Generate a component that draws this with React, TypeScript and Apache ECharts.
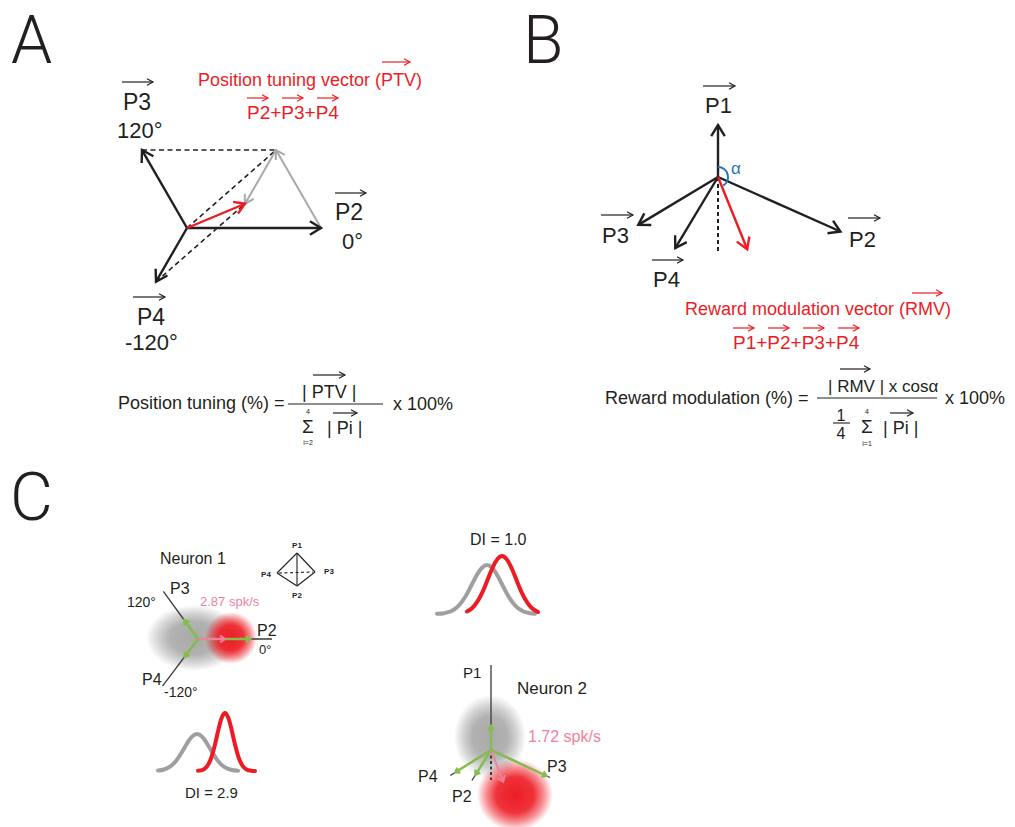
import React, { useEffect, useRef } from "react";
import * as echarts from "echarts";

const FONT = '"Liberation Sans", Arial, Helvetica, sans-serif';
const INK = "#231f20";
const RED = "#ed1c24";
const GRAY = "#a7a9ac";
const GREEN = "#84bd4d";
const PINK = "#f37f9e";
const BLUE = "#1c75bc";

// ---------- Panel A: position vectors (length, angle in degrees)
const aNames = ["P2", "P3", "P4"];
const aLength = [134, 90, 62];
const aAngle = [0, 120, -120];

// ---------- Panel B
const bNames = ["P1", "P2", "P3", "P4"];
const bLength = [52, 134, 93, 83];
const bAngle = [90, -24, -149, -121];
const rmvLength = 78;
const rmvAngle = -68;
const bReferenceLength = 76;
const alphaRadius = 10;

// ---------- Panel C, neuron 1
const n1Names = ["P2", "P3", "P4"];
const n1AxisLength = [74, 59, 59];
const n1AxisAngle = [0, 126, -127];
const n1ResponseLength = [52, 23, 22];
const n1VectorLength = 27;
const n1VectorAngle = 0;
const n1GrayCloud = [-4, 1, 48, 33]; // centre x, centre y, radius x, radius y
const n1RedCloud = [33, 1, 26, 26];

// ---------- Panel C, neuron 2
const n2Names = ["P1", "P2", "P3", "P4"];
const n2AxisLength = [85, 36, 65, 48];
const n2AxisAngle = [90, -122, -25, -148];
const n2ResponseLength = [24, 29, 61, 42];
const n2VectorLength = 34;
const n2VectorAngle = -69;
const n2ReferenceLength = 30;
const n2GrayCloud = [-1, 13, 36, 42];
const n2RedCloud = [24, -45, 38, 36];

// ---------- Distributions (DI = 2.9)
const di29GrayX = [8, 14, 20, 26, 32, 37, 42, 47, 52, 57, 62, 67, 72, 77, 82, 88];
const di29Gray = [0.4, 1.5, 4.3, 10, 19, 27.5, 34.4, 37, 34.4, 27.5, 19, 11.4, 5.8, 2.6, 1, 0.3];
const di29RedX = [48, 53, 57, 61, 65, 69, 72, 75, 78, 81, 85, 89, 93, 97, 101, 105];
const di29Red = [0.2, 1.3, 4.6, 12.5, 26.5, 43.8, 54, 58, 54, 43.8, 26.5, 12.5, 4.6, 1.3, 0.3, 0];

// ---------- Distributions (DI = 1.0)
const di10GrayX = [7, 14, 21, 28, 35, 42, 47, 52, 57, 62, 67, 72, 79, 86, 93, 100, 105];
const di10Gray = [0.2, 0.8, 2.7, 7.6, 16.7, 29.7, 39.3, 46.3, 49, 46.3, 39.3, 29.7, 16.7, 7.6, 2.7, 0.8, 0.3];
const di10RedX = [37, 42, 47, 52, 57, 62, 67, 72, 77, 82, 87, 92, 97, 102, 108];
const di10Red = [2.5, 5.8, 11.8, 20.9, 32.7, 45, 54.4, 58, 54.4, 45, 32.7, 20.9, 11.8, 5.8, 2];

// ---------- helpers
const rad = (d: number) => (d * Math.PI) / 180;
const tip = (len: number, deg: number) => [len * Math.cos(rad(deg)), len * Math.sin(rad(deg))];
const add = (...v: number[][]) => v.reduce((s, p) => [s[0] + p[0], s[1] + p[1]], [0, 0]);

type ArrowStyle = { color: string; width: number; head?: number; spread?: number; dash?: number[] };

function arrowSeries(grid: number, segs: number[][], st: ArrowStyle) {
  return {
    type: "custom",
    xAxisIndex: grid,
    yAxisIndex: grid,
    silent: true,
    clip: false,
    data: segs,
    encode: { x: [0, 2], y: [1, 3] },
    renderItem: (_p: any, api: any) => {
      const a = api.coord([api.value(0), api.value(1)]);
      const b = api.coord([api.value(2), api.value(3)]);
      const children: any[] = [
        {
          type: "line",
          shape: { x1: a[0], y1: a[1], x2: b[0], y2: b[1] },
          style: { stroke: st.color, lineWidth: st.width, lineDash: st.dash, fill: null },
        },
      ];
      if (st.head) {
        const ang = Math.atan2(b[1] - a[1], b[0] - a[0]);
        const h = st.head;
        const s = st.spread ?? 0.55;
        children.push({
          type: "polyline",
          shape: {
            points: [
              [b[0] - h * Math.cos(ang - s), b[1] - h * Math.sin(ang - s)],
              [b[0], b[1]],
              [b[0] - h * Math.cos(ang + s), b[1] - h * Math.sin(ang + s)],
            ],
          },
          style: { stroke: st.color, lineWidth: st.width, fill: null, lineJoin: "miter" },
        });
      }
      return { type: "group", children };
    },
  };
}

function cloudSeries(grid: number, cloud: number[], rgb: string, core: number) {
  return {
    type: "custom",
    xAxisIndex: grid,
    yAxisIndex: grid,
    silent: true,
    clip: false,
    data: [cloud],
    encode: { x: 0, y: 1 },
    renderItem: (_p: any, api: any) => {
      const c = api.coord([api.value(0), api.value(1)]);
      const s = api.size([api.value(2), api.value(3)]);
      return {
        type: "circle",
        x: c[0],
        y: c[1],
        scaleX: s[0] / s[1],
        scaleY: 1,
        shape: { cx: 0, cy: 0, r: s[1] },
        style: {
          fill: new echarts.graphic.RadialGradient(0.5, 0.5, 0.5, [
            { offset: 0, color: `rgba(${rgb},${core})` },
            { offset: 0.5, color: `rgba(${rgb},${core * 0.9})` },
            { offset: 0.75, color: `rgba(${rgb},${core * 0.5})` },
            { offset: 1, color: `rgba(${rgb},0)` },
          ]),
        },
      };
    },
  };
}

function curveSeries(grid: number, xs: number[], ys: number[], color: string) {
  return {
    type: "line",
    xAxisIndex: grid,
    yAxisIndex: grid,
    silent: true,
    data: xs.map((x, i) => [x, ys[i]]),
    smooth: 0.35,
    symbol: "none",
    lineStyle: { color, width: 4, cap: "round" },
  };
}

const T = (text: string, x: number, y: number, size: number, fill = INK, extra: any = {}) => ({
  type: "text",
  x,
  y,
  z: 20,
  silent: true,
  style: {
    text,
    fill,
    fontSize: size,
    fontFamily: FONT,
    textAlign: extra.align || "left",
    align: extra.align || "left",
    textVerticalAlign: "middle",
    verticalAlign: "middle",
    fontWeight: extra.weight || "normal",
  },
});

const L = (x1: number, y1: number, x2: number, y2: number, stroke = INK, w = 1.2, dash?: number[]) => ({
  type: "line",
  z: 20,
  silent: true,
  shape: { x1, y1, x2, y2 },
  style: { stroke, lineWidth: w, lineDash: dash },
});

const overArrow = (x1: number, x2: number, y: number, color = INK, w = 1.2) => [
  L(x1, y, x2, y, color, w),
  {
    type: "polyline",
    z: 20,
    silent: true,
    shape: { points: [[x2 - 6, y - 3.2], [x2, y], [x2 - 6, y + 3.2]] },
    style: { stroke: color, lineWidth: w, fill: null },
  },
];

function pxGrid(ox: number, oy: number, hw: number, hh: number) {
  return {
    grid: { left: ox - hw, top: oy - hh, width: 2 * hw, height: 2 * hh, show: false, outerBoundsMode: "none" },
    x: { type: "value", min: -hw, max: hw, show: false },
    y: { type: "value", min: -hh, max: hh, show: false },
  };
}

function boxGrid(left: number, top: number, w: number, h: number) {
  return {
    grid: { left, top, width: w, height: h, show: false, outerBoundsMode: "none" },
    x: { type: "value", min: 0, max: w, show: false },
    y: { type: "value", min: 0, max: h, show: false },
  };
}

function buildOption() {
  const grids = [
    pxGrid(187, 228, 150, 150), // 0 panel A
    pxGrid(718, 177, 150, 120), // 1 panel B
    pxGrid(198, 639, 80, 60), // 2 neuron 1
    pxGrid(491, 750, 90, 90), // 3 neuron 2
    boxGrid(150, 701, 110, 70), // 4 DI 2.9
    boxGrid(430, 541, 115, 73), // 5 DI 1.0
  ];

  const aTips = aNames.map((_, i) => tip(aLength[i], aAngle[i]));
  const s23 = add(aTips[0], aTips[1]);
  const ptv = add(aTips[0], aTips[1], aTips[2]);
  const O = [0, 0];

  const bTips = bNames.map((_, i) => tip(bLength[i], bAngle[i]));
  const rmv = tip(rmvLength, rmvAngle);
  const bRef = tip(bReferenceLength, -90);

  const n1Axis = n1Names.map((_, i) => tip(n1AxisLength[i], n1AxisAngle[i]));
  const n1Resp = n1Names.map((_, i) => tip(n1ResponseLength[i], n1AxisAngle[i]));
  const n1Vec = tip(n1VectorLength, n1VectorAngle);

  const n2Axis = n2Names.map((_, i) => tip(n2AxisLength[i], n2AxisAngle[i]));
  const n2Resp = n2Names.map((_, i) => tip(n2ResponseLength[i], n2AxisAngle[i]));
  const n2Vec = tip(n2VectorLength, n2VectorAngle);
  const n2Ref = tip(n2ReferenceLength, -90);

  const seg = (p: number[], q: number[]) => [p[0], p[1], q[0], q[1]];

  const series: any[] = [
    // panel A
    arrowSeries(0, [seg(aTips[1], s23), seg(O, s23), seg(aTips[2], ptv)], { color: INK, width: 1.6, dash: [5, 3.5] }),
    arrowSeries(0, [seg(aTips[0], s23), seg(s23, ptv)], { color: GRAY, width: 2, head: 10 }),
    arrowSeries(0, aTips.map((t) => seg(O, t)), { color: INK, width: 2.4, head: 13 }),
    arrowSeries(0, [seg(O, ptv)], { color: RED, width: 2.4, head: 12 }),
    // panel B
    arrowSeries(1, [seg(O, bRef)], { color: INK, width: 2, dash: [4, 3] }),
    arrowSeries(1, bTips.map((t) => seg(O, t)), { color: INK, width: 2.4, head: 13 }),
    arrowSeries(1, [seg(O, rmv)], { color: RED, width: 2.4, head: 13 }),
    {
      type: "custom",
      xAxisIndex: 1,
      yAxisIndex: 1,
      silent: true,
      clip: false,
      data: [[0, 0, alphaRadius]],
      encode: { x: 0, y: 1 },
      renderItem: (_p: any, api: any) => {
        const c = api.coord([api.value(0), api.value(1)]);
        const r = api.size([api.value(2), 0])[0];
        return {
          type: "arc",
          shape: { cx: c[0], cy: c[1], r, startAngle: -Math.PI / 2, endAngle: -rad(rmvAngle) - 0.15, clockwise: true },
          style: { stroke: BLUE, lineWidth: 2, fill: null },
        };
      },
    },
    // neuron 1
    cloudSeries(2, n1GrayCloud, "160,160,160", 0.9),
    cloudSeries(2, n1RedCloud, "237,28,36", 1),
    arrowSeries(2, n1Axis.map((t) => seg(O, t)), { color: "#3a3a3a", width: 1.3 }),
    arrowSeries(2, n1Resp.map((t) => seg(O, t)), { color: GREEN, width: 2.6, head: 5, spread: 0.6 }),
    arrowSeries(2, [seg(O, n1Vec)], { color: PINK, width: 2, head: 6, spread: 0.6 }),
    // neuron 2
    cloudSeries(3, n2GrayCloud, "160,160,160", 0.9),
    cloudSeries(3, n2RedCloud, "237,28,36", 1),
    arrowSeries(3, n2Axis.map((t) => seg(O, t)), { color: "#3a3a3a", width: 1.3 }),
    arrowSeries(3, [seg(O, n2Ref)], { color: INK, width: 1.6, dash: [3, 2.5] }),
    arrowSeries(3, n2Resp.map((t) => seg(O, t)), { color: GREEN, width: 2.4, head: 5, spread: 0.6 }),
    arrowSeries(3, [seg(O, n2Vec)], { color: PINK, width: 2, head: 7, spread: 0.6 }),
    // distributions
    curveSeries(4, di29GrayX, di29Gray, "#9d9fa2"),
    curveSeries(4, di29RedX, di29Red, RED),
    curveSeries(5, di10GrayX, di10Gray, "#9d9fa2"),
    curveSeries(5, di10RedX, di10Red, RED),
  ];

  const LETTER = (t: string, x: number, y: number) => ({
    type: "text",
    x,
    y,
    z: 20,
    silent: true,
    style: {
      text: t,
      fill: INK,
      fontSize: 66,
      fontFamily: "Roboto, " + FONT,
      fontWeight: 300,
      textAlign: "left",
      align: "left",
      textVerticalAlign: "middle",
      verticalAlign: "middle",
    },
  });

  const elements: any[] = [
    LETTER("A", 11, 40),
    LETTER("B", 523, 40),
    LETTER("C", 10, 497),

    // ----- Panel A labels
    T("Position tuning vector (PTV)", 198, 80, 18, RED),
    ...overArrow(382, 410, 62, RED),
    T("P2+P3+P4", 247, 112, 19, RED),
    ...overArrow(247, 268, 98, RED),
    ...overArrow(282, 303, 98, RED),
    ...overArrow(317, 338, 98, RED),
    T("P3", 123, 102, 23),
    ...overArrow(122, 153, 82),
    T("120°", 117, 130, 22),
    T("P2", 335, 212, 23),
    ...overArrow(335, 366, 193),
    T("0°", 342, 241, 22),
    T("P4", 137, 317, 23),
    ...overArrow(133, 165, 297),
    T("-120°", 125, 342, 22),

    // formula A
    T("Position tuning (%) =", 118, 403, 18),
    L(288, 404, 383, 404, INK, 1.1),
    T("| PTV |", 302, 392, 18),
    ...overArrow(313, 345, 375),
    T("Σ", 302, 426, 19),
    T("4", 308, 411, 7, INK, { align: "center" }),
    T("i=2", 308, 442, 7, INK, { align: "center" }),
    T("| Pi |", 327, 428, 18),
    ...overArrow(333, 357, 413),
    T("x 100%", 393, 404, 18),

    // ----- Panel B labels
    T("P1", 705, 105, 22),
    ...overArrow(703, 735, 86),
    T("α", 731, 168, 17, BLUE),
    T("P2", 849, 239, 22),
    ...overArrow(848, 880, 218),
    T("P3", 602, 235, 22),
    ...overArrow(601, 633, 215),
    T("P4", 653, 279, 22),
    ...overArrow(652, 683, 260),
    T("Reward modulation vector (RMV)", 685, 309, 18, RED),
    ...overArrow(912, 942, 293, RED),
    T("P1+P2+P3+P4", 733, 342, 19, RED),
    ...overArrow(733, 754, 328, RED),
    ...overArrow(768, 789, 328, RED),
    ...overArrow(803, 824, 328, RED),
    ...overArrow(838, 859, 328, RED),

    // formula B
    T("Reward modulation (%) =", 605, 398, 18),
    L(817, 398, 937, 398, INK, 1.1),
    T("| RMV | x cosα", 828, 386, 17),
    ...overArrow(840, 870, 369),
    T("x 100%", 945, 398, 18),
    T("1", 841, 415, 16, INK, { align: "center" }),
    L(833, 423, 850, 423, INK, 1.1),
    T("4", 841, 433, 16, INK, { align: "center" }),
    T("Σ", 861, 426, 19),
    T("4", 867, 411, 7, INK, { align: "center" }),
    T("i=1", 867, 443, 7, INK, { align: "center" }),
    T("| Pi |", 883, 428, 18),
    ...overArrow(890, 913, 413),

    // ----- Panel C, neuron 1
    T("Neuron 1", 160, 558, 16),
    T("P1", 297, 545, 8, INK, { align: "center", weight: "bold" }),
    T("P4", 266, 574, 8, INK, { align: "center", weight: "bold" }),
    T("P3", 329, 571, 8, INK, { align: "center", weight: "bold" }),
    T("P2", 297, 595, 8, INK, { align: "center", weight: "bold" }),
    L(297, 553, 277, 573, INK, 1.1),
    L(297, 553, 315, 572, INK, 1.1),
    L(297, 553, 297, 586, INK, 1.1),
    L(277, 573, 297, 586, INK, 1.1),
    L(315, 572, 297, 586, INK, 1.1),
    L(279, 573, 313, 572, INK, 1.1, [3, 2.5]),
    T("P3", 170, 588, 16),
    T("120°", 127, 602, 14),
    T("2.87 spk/s", 200, 601, 13, PINK),
    T("P2", 257, 630, 16),
    T("0°", 259, 649, 13),
    T("P4", 142, 679, 16),
    T("-120°", 164, 692, 14),
    T("DI = 2.9", 185, 792, 15),

    // DI 1.0
    T("DI = 1.0", 470, 539, 16),

    // neuron 2
    T("P1", 463, 672, 15),
    T("Neuron 2", 517, 688, 17),
    T("1.72 spk/s", 528, 736, 16, PINK),
    T("P4", 418, 776, 16),
    T("P2", 452, 796, 16),
    T("P3", 547, 766, 16),
  ];

  return {
    animation: false,
    backgroundColor: "#ffffff",
    grid: grids.map((g) => g.grid),
    xAxis: grids.map((g, i) => ({ ...g.x, gridIndex: i })),
    yAxis: grids.map((g, i) => ({ ...g.y, gridIndex: i })),
    series,
    graphic: { elements },
  };
}

export default function App() {
  const ref = useRef<HTMLDivElement>(null);
  useEffect(() => {
    const chart = echarts.init(ref.current!, null, { renderer: "svg" });
    chart.setOption(buildOption() as any);
    return () => chart.dispose();
  }, []);
  return (
    <div
      ref={ref}
      style={{ position: "absolute", left: 0, top: 0, width: 1015, height: 827, background: "#fff" }}
    />
  );
}
